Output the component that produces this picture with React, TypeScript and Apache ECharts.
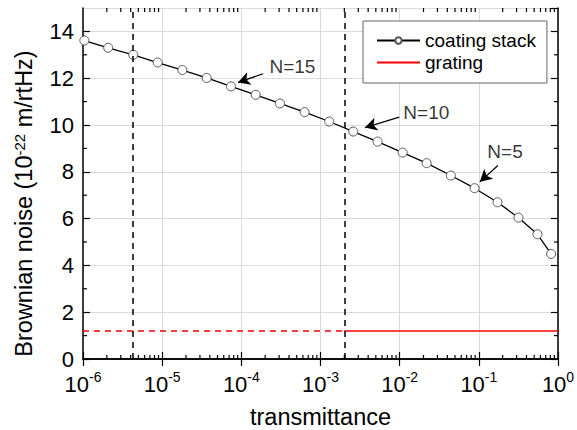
import React, { useEffect, useRef } from 'react';
import * as echarts from 'echarts';

// ---- data ----
const transmittance = [
  1.04e-6, 2.08e-6, 4.31e-6, 8.77e-6, 1.8e-5, 3.65e-5, 7.4e-5, 1.52e-4, 3.07e-4, 6.3e-4,
  1.29e-3, 2.59e-3, 5.26e-3, 1.09e-2, 2.19e-2, 4.43e-2, 8.83e-2, 0.172, 0.317, 0.551, 0.818,
];
const coatingNoise = [
  13.61, 13.3, 13.0, 12.67, 12.35, 12.01, 11.65, 11.29, 10.92, 10.55,
  10.15, 9.72, 9.29, 8.82, 8.37, 7.84, 7.3, 6.7, 6.04, 5.33, 4.49,
];
const gratingNoise = 1.2;
const gratingSwitchT = 2e-3;
const xRange = [1e-6, 1];
const yRange = [0, 15];
const markerLinesT = [4.3e-6, 2e-3];
const xMinorMultipliers = [2, 3, 4, 5, 6, 7, 8, 9];
const xDecades = [-6, -5, -4, -3, -2, -1];
const yMinorTicks = [1, 3, 5, 7, 9, 11, 13];
const annotations = [
  { label: 'N=15', text: [2.3e-4, 12.47], tail: [1.89e-4, 12.19], tip: [9.06e-5, 11.82] },
  { label: 'N=10', text: [1.13e-2, 10.53], tail: [9.86e-3, 10.34], tip: [3.64e-3, 9.89] },
  { label: 'N=5', text: [0.13, 8.85], tail: [0.174, 8.27], tip: [0.103, 7.57] },
];

const FONT = '"Liberation Sans", Arial, Helvetica, sans-serif';

export default function App() {
  const ref = useRef<HTMLDivElement>(null);
  useEffect(() => {
    if (!ref.current) return;
    const chart = echarts.init(ref.current, undefined, { renderer: 'svg' });

    const xMinor: number[] = [];
    xDecades.forEach((d) => xMinorMultipliers.forEach((m) => xMinor.push(m * Math.pow(10, d))));

    const axisLine = { show: true, lineStyle: { color: '#000', width: 1.5 } };
    const axisTick = { show: true, inside: true, length: 7, lineStyle: { color: '#000', width: 1.2 } };

    const option: any = {
      animation: false,
      backgroundColor: '#fff',
      textStyle: { fontFamily: FONT },
      grid: { left: 83, right: 19, top: 8, bottom: 71, containLabel: false, outerBoundsMode: 'none' },
      legend: {
        data: ['coating stack', 'grating'],
        orient: 'vertical',
        left: 363,
        top: 21,
        padding: [10, 11, 11, 13],
        itemGap: 3,
        itemWidth: 43,
        itemHeight: 8,
        backgroundColor: '#fff',
        borderColor: '#666',
        borderWidth: 1,
        borderRadius: 0,
        textStyle: { fontSize: 19, color: '#000', fontFamily: FONT },
      },
      xAxis: [
        {
          type: 'log',
          logBase: 10,
          min: xRange[0],
          max: xRange[1],
          position: 'bottom',
          axisLine,
          axisTick,
          minorTick: { show: false },
          splitLine: { show: true, lineStyle: { color: '#dadada', width: 1 } },
          axisLabel: {
            margin: 11,
            color: '#000',
            formatter: (v: number) => `{b|10}{s|${Math.round(Math.log10(v))}}`,
            rich: {
              b: { fontSize: 22, fontFamily: FONT, color: '#000', lineHeight: 28 },
              s: { fontSize: 14, fontFamily: FONT, color: '#000', verticalAlign: 'top', lineHeight: 14 },
            },
          },
          name: 'transmittance',
          nameLocation: 'middle',
          nameGap: 46,
          nameTextStyle: { fontSize: 23.5, color: '#000', fontFamily: FONT },
        },
        {
          type: 'log',
          logBase: 10,
          min: xRange[0],
          max: xRange[1],
          position: 'top',
          axisLine,
          axisTick,
          axisLabel: { show: false },
          splitLine: { show: false },
        },
      ],
      yAxis: [
        {
          type: 'value',
          min: yRange[0],
          max: yRange[1],
          interval: 2,
          position: 'left',
          axisLine,
          axisTick,
          splitLine: { show: true, lineStyle: { color: '#dadada', width: 1 } },
          axisLabel: { margin: 9, fontSize: 22, color: '#000', fontFamily: FONT, showMaxLabel: false },
          name: 'Brownian noise (10{s|-22} m/rtHz)',
          nameLocation: 'middle',
          nameGap: 47,
          nameTextStyle: {
            fontSize: 23.5,
            color: '#000',
            fontFamily: FONT,
            padding: [0, 40, 0, 0],
            rich: {
              s: { fontSize: 15, fontFamily: FONT, color: '#000', verticalAlign: 'top', lineHeight: 15 },
            },
          },
        },
        {
          type: 'value',
          min: yRange[0],
          max: yRange[1],
          interval: 2,
          position: 'right',
          axisLine,
          axisTick,
          axisLabel: { show: false },
          splitLine: { show: false },
        },
      ],
      series: [
        {
          name: 'grating dashed',
          type: 'line',
          data: [[xRange[0], gratingNoise], [gratingSwitchT, gratingNoise]],
          symbol: 'none',
          lineStyle: { color: '#ff0000', width: 1.5, type: [6, 5] },
          markLine: {
            silent: true,
            symbol: ['none', 'none'],
            label: { show: false },
            lineStyle: { color: '#000', width: 1.5, type: [6, 5] },
            data: markerLinesT.map((t) => [{ coord: [t, yRange[0]] }, { coord: [t, yRange[1]] }]),
          },
          z: 3,
        },
        {
          name: 'grating',
          type: 'line',
          data: [[gratingSwitchT, gratingNoise], [xRange[1], gratingNoise]],
          symbol: 'none',
          itemStyle: { color: 'rgba(0,0,0,0)' },
          lineStyle: { color: '#ff0000', width: 1.5 },
          z: 3,
        },
        {
          name: 'coating stack',
          type: 'line',
          data: transmittance.map((t, i) => [t, coatingNoise[i]]),
          symbol: 'circle',
          symbolSize: 9,
          lineStyle: { color: '#000', width: 1.3 },
          itemStyle: { color: '#fff', borderColor: '#555', borderWidth: 1 },
          z: 4,
        },
        {
          name: 'arrows',
          type: 'line',
          data: [],
          markLine: {
            silent: true,
            symbol: ['none', 'arrow'],
            symbolSize: [10, 12],
            label: { show: false },
            lineStyle: { color: '#000', width: 1.3, type: 'solid' },
            data: annotations.map((a) => [{ coord: a.tail }, { coord: a.tip }]),
          },
          z: 5,
        },
        {
          name: 'labels',
          type: 'scatter',
          symbolSize: 1,
          itemStyle: { color: 'rgba(0,0,0,0)' },
          data: annotations.map((a) => ({ value: a.text, name: a.label })),
          label: {
            show: true,
            position: [0, 0],
            align: 'left',
            verticalAlign: 'middle',
            formatter: (p: any) => p.name,
            fontSize: 19,
            color: '#000',
            fontFamily: FONT,
          },
          z: 5,
        },
        {
          name: 'x minor ticks',
          type: 'custom',
          silent: true,
          clip: false,
          data: xMinor.map((v) => [v, 1]),
          renderItem: (params: any, api: any) => {
            const x = api.coord([api.value(0), 1])[0];
            const cs = params.coordSys;
            const st = { stroke: '#000', lineWidth: 1.2 };
            return {
              type: 'group',
              children: [
                { type: 'line', shape: { x1: x, y1: cs.y + cs.height, x2: x, y2: cs.y + cs.height - 4 }, style: st },
                { type: 'line', shape: { x1: x, y1: cs.y, x2: x, y2: cs.y + 4 }, style: st },
              ],
            };
          },
          z: 6,
        },
        {
          name: 'y minor ticks',
          type: 'custom',
          silent: true,
          clip: false,
          data: yMinorTicks.map((v) => [1e-3, v]),
          renderItem: (params: any, api: any) => {
            const y = api.coord([1e-3, api.value(1)])[1];
            const cs = params.coordSys;
            const st = { stroke: '#000', lineWidth: 1.2 };
            return {
              type: 'group',
              children: [
                { type: 'line', shape: { x1: cs.x, y1: y, x2: cs.x + 4, y2: y }, style: st },
                { type: 'line', shape: { x1: cs.x + cs.width, y1: y, x2: cs.x + cs.width - 4, y2: y }, style: st },
              ],
            };
          },
          z: 6,
        },
      ],
    };
    chart.setOption(option);
    return () => chart.dispose();
  }, []);
  return (
    <div
      ref={ref}
      style={{ position: 'fixed', left: 0, top: 0, width: 577, height: 430, background: '#fff' }}
    />
  );
}
